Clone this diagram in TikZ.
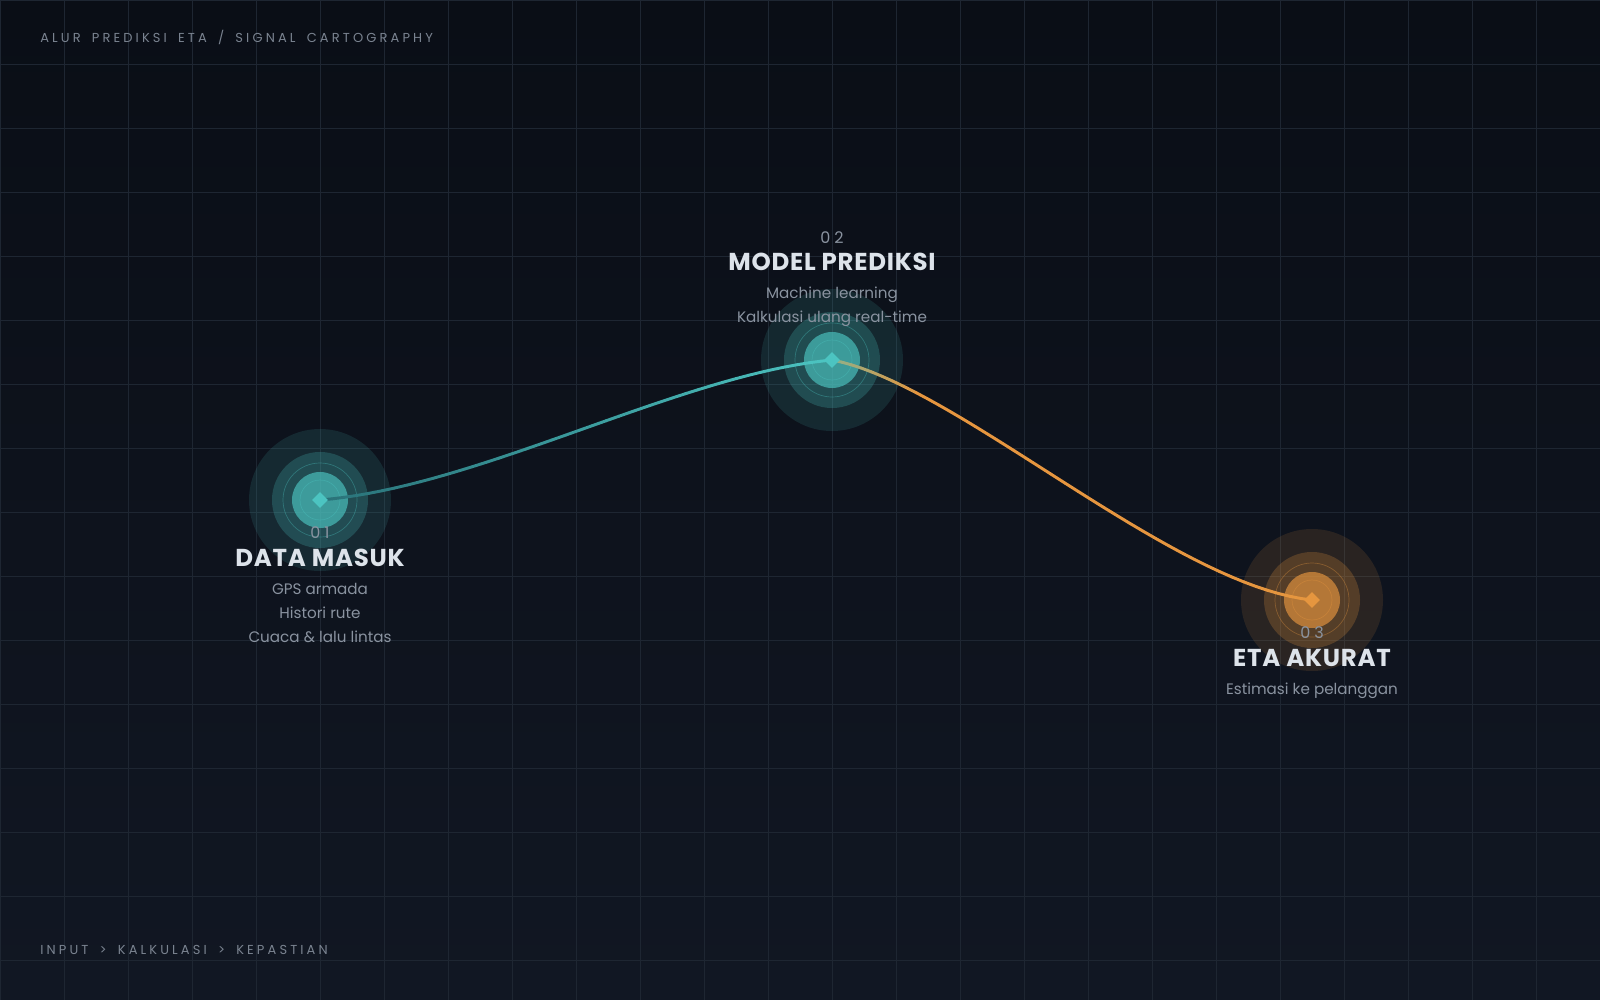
\documentclass[tikz,border=0pt]{standalone}
\usepackage{fontspec}
\setmainfont{Poppins}
\newfontfamily\spacedfont[LetterSpace=24,WordSpace=1.7]{Poppins}
\newfontfamily\numfont[LetterSpace=25]{Poppins}
\newfontfamily\headfont[LetterSpace=3]{Poppins}
\usepackage{tikz}
\usetikzlibrary{shapes.geometric}

\definecolor{bgtop}{HTML}{0A0E16}
\definecolor{bgbot}{HTML}{111723}
\definecolor{gridcol}{HTML}{1E2632}
\definecolor{sigteal}{HTML}{4CC4C1}
\definecolor{tealdeep}{HTML}{2A7279}
\definecolor{sigorange}{HTML}{E6963F}
\definecolor{titlecol}{HTML}{DDE3EA}
\definecolor{mutedcol}{HTML}{8A93A0}
\definecolor{capcol}{HTML}{7A8390}

\begin{document}
\begin{tikzpicture}[x=0.025cm,y=-0.025cm]
		% Styles for grid, signal cores and labels
		\tikzset{
			gridline/.style={draw=gridcol, line width=0.7pt},
			core/.style={diamond, fill=#1, inner sep=0pt, minimum size=0.4cm},
			numtext/.style={anchor=base, text=mutedcol, font=\numfont\fontsize{11.4}{13}\selectfont},
			titletext/.style={anchor=base, text=titlecol, font=\headfont\bfseries\fontsize{17.4}{20}\selectfont},
			subtext/.style={anchor=base, text=mutedcol, font=\fontsize{10.8}{13}\selectfont},
			captext/.style={anchor=base west, inner sep=0pt, text=capcol, font=\spacedfont\fontsize{9.25}{11}\selectfont},
			trace/.style={line width=2.1pt, line cap=round}
		}
		\useasboundingbox (0,0) rectangle (1600,1000);
		
		% Background and grid
		\shade[top color=bgtop, bottom color=bgbot] (0,0) rectangle (1600,1000);
		\foreach \x in {0,64,...,1600} \draw[gridline] (\x,0) -- (\x,1000);
		\foreach \y in {0,64,...,960} \draw[gridline] (0,\y) -- (1600,\y);
		
		% Signal points
		\coordinate (p1) at (320,500);
		\coordinate (p2) at (832,360);
		\coordinate (p3) at (1312,600);
		
		% Halos round each point
		\foreach \p/\c in {p1/sigteal, p2/sigteal, p3/sigorange} {
			\fill[\c, fill opacity=0.13] (\p) circle (71);
			\fill[\c, fill opacity=0.23] (\p) circle (48);
			\fill[\c, fill opacity=0.66] (\p) circle (28);
			\draw[\c, opacity=0.35, line width=0.5pt] (\p) circle (37) (\p) circle (20);
		}
		
		% Sample the two curves
		\path (p1) .. controls (480,487) and (680,374) .. (p2)
			\foreach \k in {0,...,40} {coordinate[pos=\k/40] (a\k)};
		\path (p2) .. controls (955,383) and (1170,585) .. (p3)
			\foreach \k in {0,...,40} {coordinate[pos=\k/40] (b\k)};
		
		% Draw the curves piece by piece with a colour ramp
		\foreach \k [evaluate=\k as \j using {int(\k+1)}, evaluate=\k as \m using {int(100*\k/39)}] in {0,...,39}
			\draw[trace, sigteal!\m!tealdeep] (a\k) -- (a\j);
		\foreach \k [evaluate=\k as \j using {int(\k+1)}, evaluate=\k as \m using {int(min(100,45+55*\k/8))}] in {0,...,39}
			\draw[trace, sigorange!\m!sigteal] (b\k) -- (b\j);
		
		% Cores
		\node[core=sigteal] (d1) at (p1) {};
		\node[core=sigteal] (d2) at (p2) {};
		\node[core=sigorange] (d3) at (p3) {};
		
		% Labels
		\node[numtext] (n1) at (320,538) {01};
		\node[titletext] (t1) at (320,566) {DATA MASUK};
		\node[subtext] (s1a) at (320,594) {GPS armada};
		\node[subtext] (s1b) at (320,618) {Histori rute};
		\node[subtext] (s1c) at (320,642) {Cuaca \& lalu lintas};
		
		\node[numtext] (n2) at (832,243) {02};
		\node[titletext] (t2) at (832,270) {MODEL PREDIKSI};
		\node[subtext] (s2a) at (832,298) {Machine learning};
		\node[subtext] (s2b) at (832,322) {Kalkulasi ulang real-time};
		
		\node[numtext] (n3) at (1312,638) {03};
		\node[titletext] (t3) at (1312,666) {ETA AKURAT};
		\node[subtext] (s3a) at (1312,694) {Estimasi ke pelanggan};
		
		\node[captext] (head) at (40,42.5) {ALUR PREDIKSI ETA / SIGNAL CARTOGRAPHY};
		\node[captext] (foot) at (40,954) {INPUT > KALKULASI > KEPASTIAN};
	\end{tikzpicture}
\end{document}
